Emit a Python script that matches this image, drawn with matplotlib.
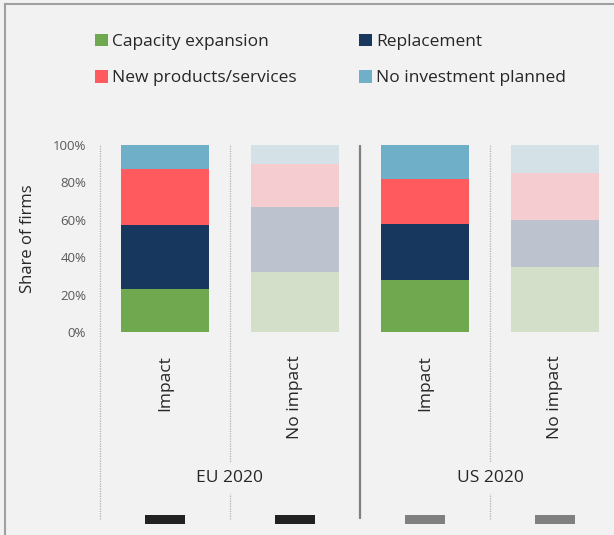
import matplotlib.pyplot as plt
from matplotlib.patches import Patch
from matplotlib.lines import Line2D
import numpy as np

# share of firms (%) per bar: EU impact, EU no impact, US impact, US no impact
categories = ['Impact', 'No impact', 'Impact', 'No impact']
groups = ['EU 2020', 'US 2020']
capacity = [23, 32, 28, 35]
replacement = [34, 35, 30, 25]
new_products = [30, 23, 24, 25]
no_investment = [13, 10, 18, 15]
series_names = ['Capacity expansion', 'Replacement', 'New products/services', 'No investment planned']
strong = ['#70a84f', '#17375e', '#ff5a5e', '#6fb0c8']
pale = ['#d4dfc9', '#bcc3cf', '#f5cccf', '#d4e1e7']
marker_colors = ['#222222', '#222222', '#808080', '#808080']

plt.rcParams['font.family'] = ['Open Sans', 'DejaVu Sans']
bg = '#f2f2f2'

fig = plt.figure(figsize=(6.14, 5.35), dpi=100, facecolor=bg)
W, H = 614, 535
ax = fig.add_axes([100 / W, 1 - 332 / H, 514 / W, 187 / H], facecolor=bg)

x = np.arange(len(categories))
series = [capacity, replacement, new_products, no_investment]
bottom = np.zeros(len(categories))
for k, vals in enumerate(series):
    vals = np.array(vals) / 100
    cols = [strong[k] if c == 'Impact' else pale[k] for c in categories]
    ax.bar(x, vals, 0.67, bottom=bottom, color=cols, linewidth=0)
    bottom += vals

ax.set_xlim(-0.5, -0.5 + 514 / 130)
ax.set_ylim(0, 1)
ax.set_yticks(np.linspace(0, 1, 6))
ax.set_yticklabels([f'{v}%' for v in range(0, 101, 20)], color='#595959', fontsize=9.5)
ax.tick_params(axis='y', length=0, pad=10)
ax.set_xticks([])
for s in ax.spines.values():
    s.set_visible(False)
ax.set_ylabel('Share of firms', fontsize=12, color='#262626', labelpad=12)

# separators
for xs in [-0.5, 0.5, 2.5]:
    ax.vlines(xs, -1.0, 1.0, colors='#b0b0b0', linestyles=(0, (1, 1)), linewidth=0.9, clip_on=False, zorder=0)
ax.vlines(1.5, -1.0, 1.0, colors='#808080', linewidth=1.6, clip_on=False, zorder=0)

# category labels
for xi, c in zip(x, categories):
    ax.text(xi, -23 / 187, c, rotation=90, ha='center', va='top', fontsize=12.5, color='#262626')

# group labels
for gi, g in enumerate(groups):
    ax.text(0.5 + 2 * gi, -146 / 187, g, ha='center', va='center', fontsize=12.5, color='#262626',
            bbox=dict(facecolor=bg, edgecolor='none', pad=6))

# small colour markers under categories
ax.bar(x, 9 / 187, 0.315, bottom=-192 / 187, color=marker_colors, linewidth=0, clip_on=False)

# legend
handles = [Patch(facecolor=strong[k], edgecolor='none') for k in range(4)]
order = [0, 2, 1, 3]
fig.legend([handles[i] for i in order], [series_names[i] for i in order], ncol=2,
           loc='upper left', bbox_to_anchor=(79 / W, 1 - 18 / H), frameon=False,
           fontsize=12.5, handlelength=0.75, handleheight=0.75, handletextpad=0.25,
           columnspacing=3.6, labelspacing=1.15, labelcolor='#262626')

# outer frame
fig.add_artist(Line2D([5 / W, 5 / W], [0, 1 - 4 / H], transform=fig.transFigure, color='#a0a0a0', linewidth=1.5))
fig.add_artist(Line2D([5 / W, 1], [1 - 4 / H, 1 - 4 / H], transform=fig.transFigure, color='#a0a0a0', linewidth=1.5))

fig.savefig('out.png', dpi=100, facecolor=bg)
